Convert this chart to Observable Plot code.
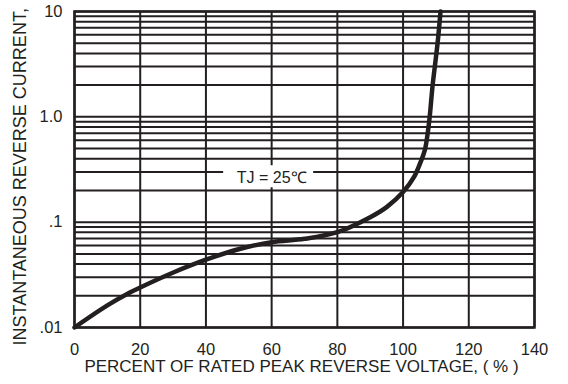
<!DOCTYPE html>
<html>
<head>
<meta charset="utf-8">
<script src="https://cdn.jsdelivr.net/npm/d3@7"></script>
<script src="https://cdn.jsdelivr.net/npm/@observablehq/plot@0.6"></script>
<style>
  html, body { margin: 0; padding: 0; background: #fff; }
  #chart svg { overflow: visible; font-family: "Liberation Sans", Arial, sans-serif !important; }
  #chart svg text { font-family: "Liberation Sans", Arial, sans-serif !important; }
</style>
</head>
<body>
<div id="chart"></div>
<script>
// Curve: percent of rated peak reverse voltage vs instantaneous reverse current
const voltagePct = [0, 10, 17, 20, 29.2, 40, 50.5, 60, 70, 80, 90, 95, 100, 103.3, 105.3, 106.6, 107.5, 108.1, 109, 110.5, 111.4];
const reverseCurrent = [0.01, 0.0162, 0.0216, 0.024, 0.0324, 0.044, 0.0559, 0.0646, 0.0695, 0.0804, 0.1115, 0.139, 0.193, 0.267, 0.37, 0.48, 0.7, 1.0, 2.0, 5.0, 10];

const xTicks = [0, 20, 40, 60, 80, 100, 120, 140];
const yTicks = [0.01, 0.1, 1, 10];
const yTickLabels = [".01", ".1", "1.0", "10"];
const yGrid = [0.01, 0.02, 0.03, 0.04, 0.05, 0.06, 0.07, 0.08, 0.09,
               0.1, 0.2, 0.3, 0.4, 0.5, 0.6, 0.7, 0.8, 0.9,
               1, 2, 3, 4, 5, 6, 7, 8, 9, 10];

const xTitle = "PERCENT OF RATED PEAK REVERSE VOLTAGE, ( % )";
const yTitle = "INSTANTANEOUS REVERSE CURRENT,";
const noteText = "TJ = 25\u2103";
const noteX = 60;
const noteY = 0.27;

const curve = voltagePct.map((v, i) => ({x: v, y: reverseCurrent[i]}));
const ink = "#231f20";
const font = "Liberation Sans";

const chart = Plot.plot({
  width: 568,
  height: 384,
  marginLeft: 74,
  marginRight: 34,
  marginTop: 11,
  marginBottom: 57,
  style: {fontFamily: font, color: ink, background: "#fff", overflow: "visible"},
  x: {domain: [0, 140]},
  y: {type: "log", domain: [0.01, 10]},
  marks: [
    Plot.ruleY(yGrid, {stroke: ink, strokeWidth: 2}),
    Plot.ruleX(xTicks, {stroke: ink, strokeWidth: 2}),
    Plot.rect([{x: noteX, y: noteY}], {
      x1: "x", x2: "x", y1: "y", y2: "y",
      insetLeft: -48, insetRight: -42, insetTop: -11, insetBottom: -11,
      fill: "white"
    }),
    Plot.text([noteText], {
      x: () => noteX, y: () => noteY, text: d => d,
      fontSize: 16, fontFamily: font, fill: ink, dx: 0, dy: 1
    }),
    Plot.line(curve, {x: "x", y: "y", stroke: ink, strokeWidth: 4.5, curve: "catmull-rom"}),
    Plot.frame({stroke: ink, strokeWidth: 2.5}),
    Plot.axisX(xTicks, {tickSize: 0, tickPadding: 16, fontSize: 16.5, fontFamily: font, label: null, fill: ink}),
    Plot.axisY(yTicks, {tickSize: 0, tickPadding: 12, fontSize: 16.5, fontFamily: font, label: null, fill: ink,
      tickFormat: d => yTickLabels[yTicks.indexOf(d)]}),
    Plot.text([xTitle], {frameAnchor: "bottom", lineAnchor: "middle", dx: -3, dy: 39,
      fontSize: 17, fontFamily: font, fill: ink}),
    Plot.text([yTitle], {frameAnchor: "bottom-left", lineAnchor: "middle", rotate: -90, textAnchor: "start",
      dx: -54.5, dy: 18, fontSize: 18, fontFamily: font, fill: ink})
  ]
});

document.getElementById("chart").appendChild(chart);
</script>
</body>
</html>
